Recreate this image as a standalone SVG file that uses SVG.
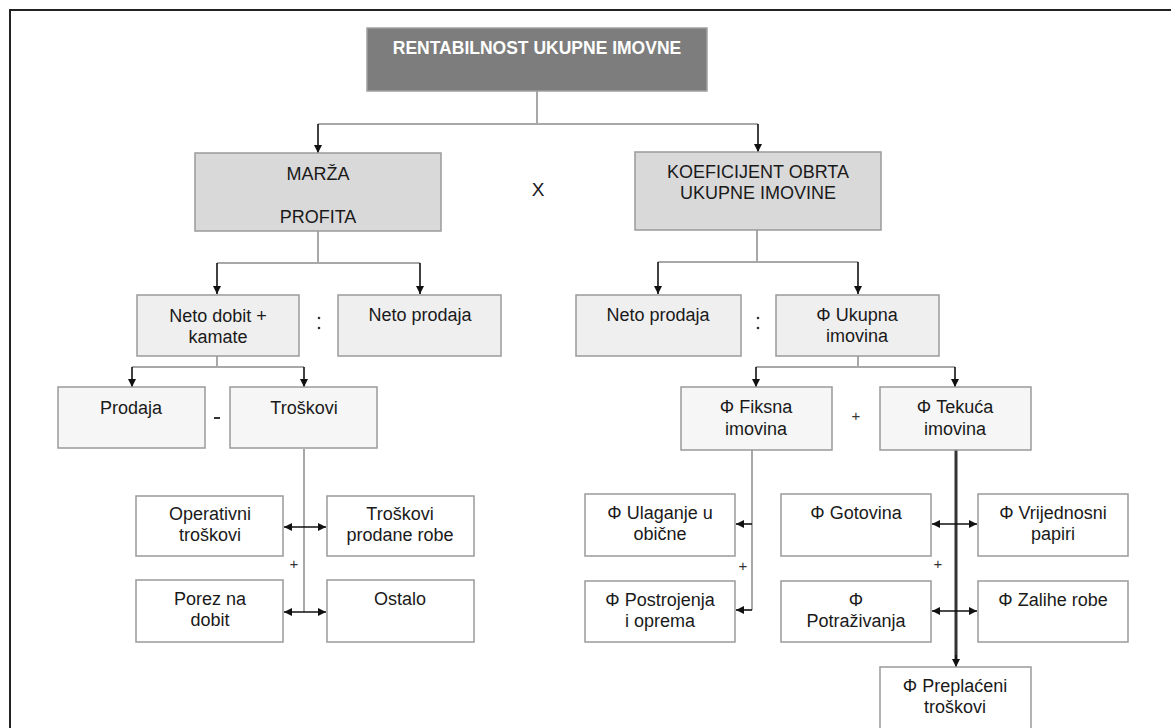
<svg xmlns="http://www.w3.org/2000/svg" width="1171" height="728" viewBox="0 0 1171 728">
<style>
text{font-family:"Liberation Sans",Arial,sans-serif;font-size:18px;fill:#1a1a1a;text-anchor:middle}
.title{font-weight:bold;fill:#ffffff;font-size:17.5px}
.box{stroke:#9a9a9a;stroke-width:1.5}
.top{fill:#7d7d7d;stroke:#a0a0a0}
.l1{fill:#d9d9d9}
.l2{fill:#efefef}
.l3{fill:#f6f6f6}
.l4{fill:#ffffff}
.trunk{stroke:#a8a8a8;stroke-width:2;fill:none}
.arr{stroke:#111;stroke-width:1.6;fill:none}
.thick{stroke:#333;stroke-width:3;fill:none}
.sym{fill:#333}
.plus{font-size:15px;fill:#333}
</style>
<defs>
<marker id="ah" markerUnits="userSpaceOnUse" markerWidth="10" markerHeight="10" refX="8" refY="4" orient="auto">
<path d="M0,0 L8,4 L0,8 Z" fill="#111"/>
</marker>
<marker id="ahs" markerUnits="userSpaceOnUse" markerWidth="10" markerHeight="10" refX="0" refY="4" orient="auto">
<path d="M8,0 L0,4 L8,8 Z" fill="#111"/>
</marker>
</defs>
<rect width="1171" height="728" fill="#ffffff"/>
<path d="M10,728 V10 H1171" stroke="#222" stroke-width="2" fill="none"/>

<g id="connectors">
<path class="trunk" d="M537,91 V124 H318 M537,124 H758"/>
<path class="arr" d="M318,124 V153" marker-end="url(#ah)"/>
<path class="arr" d="M758,124 V152" marker-end="url(#ah)"/>
<path class="trunk" d="M318,231 V263 H217 M318,263 H420"/>
<path class="arr" d="M217,263 V294" marker-end="url(#ah)"/>
<path class="arr" d="M420,263 V294" marker-end="url(#ah)"/>
<path class="trunk" d="M757,230 V262 H658 M757,262 H858"/>
<path class="arr" d="M658,262 V294" marker-end="url(#ah)"/>
<path class="arr" d="M858,262 V294" marker-end="url(#ah)"/>
<path class="trunk" d="M217,356 V367 H132 M217,367 H304"/>
<path class="arr" d="M132,367 V387" marker-end="url(#ah)"/>
<path class="arr" d="M304,367 V387" marker-end="url(#ah)"/>
<path class="trunk" d="M858,356 V367 H756 M858,367 H955"/>
<path class="arr" d="M756,367 V387" marker-end="url(#ah)"/>
<path class="arr" d="M955,367 V387" marker-end="url(#ah)"/>
<path class="trunk" d="M304,449 V612"/>
<path class="arr" d="M284,527 H326" marker-start="url(#ahs)" marker-end="url(#ah)"/>
<path class="arr" d="M284,612 H326" marker-start="url(#ahs)" marker-end="url(#ah)"/>
<path class="trunk" d="M752,450 V610"/>
<path class="arr" d="M752,524 H736" marker-end="url(#ah)"/>
<path class="arr" d="M752,610 H736" marker-end="url(#ah)"/>
<path class="thick" d="M956,450 V660"/>
<path class="arr" d="M956,655 V667" marker-end="url(#ah)"/>
<path class="arr" d="M932,524 H977" marker-start="url(#ahs)" marker-end="url(#ah)"/>
<path class="arr" d="M932,611 H977" marker-start="url(#ahs)" marker-end="url(#ah)"/>
</g>

<g id="n-rentabilnost"><rect class="box top" x="367" y="28" width="340" height="63"/><text class="title" x="537" y="54">RENTABILNOST UKUPNE IMOVNE</text></g>
<g id="n-marza"><rect class="box l1" x="195" y="153" width="246" height="78"/><text x="318" y="180">MARŽA</text><text x="318" y="223">PROFITA</text></g>
<g id="n-koef"><rect class="box l1" x="635" y="152" width="246" height="78"/><text x="758" y="178">KOEFICIJENT OBRTA</text><text x="758" y="199">UKUPNE IMOVINE</text></g>
<text x="538" y="196" style="font-size:19px">X</text>

<g id="n-netodobit"><rect class="box l2" x="137" y="295" width="162" height="61"/><text x="218" y="322">Neto dobit +</text><text x="218" y="343">kamate</text></g>
<g id="n-netoprodaja1"><rect class="box l2" x="338" y="295" width="163" height="61"/><text x="420" y="321">Neto prodaja</text></g>
<g id="n-netoprodaja2"><rect class="box l2" x="576" y="295" width="165" height="61"/><text x="658" y="321">Neto prodaja</text></g>
<g id="n-ukupna"><rect class="box l2" x="776" y="295" width="163" height="61"/><text x="857" y="321">Φ Ukupna</text><text x="857" y="342">imovina</text></g>
<circle class="sym" cx="319" cy="318" r="1.3"/><circle class="sym" cx="319" cy="328" r="1.3"/>
<circle class="sym" cx="758" cy="318" r="1.3"/><circle class="sym" cx="758" cy="328" r="1.3"/>

<g id="n-prodaja"><rect class="box l3" x="58" y="387" width="147" height="61"/><text x="131" y="414">Prodaja</text></g>
<g id="n-troskovi"><rect class="box l3" x="230" y="387" width="147" height="61"/><text x="304" y="414">Troškovi</text></g>
<rect class="sym" x="214" y="417" width="6" height="2"/>
<g id="n-fiksna"><rect class="box l3" x="681" y="387" width="151" height="63"/><text x="756" y="413">Φ Fiksna</text><text x="756" y="435">imovina</text></g>
<g id="n-tekuca"><rect class="box l3" x="880" y="387" width="151" height="63"/><text x="955" y="413">Φ Tekuća</text><text x="955" y="435">imovina</text></g>
<text class="plus" x="856" y="421">+</text>

<g id="n-operativni"><rect class="box l4" x="136" y="496" width="147" height="60"/><text x="210" y="520">Operativni</text><text x="210" y="541">troškovi</text></g>
<g id="n-trosprod"><rect class="box l4" x="327" y="496" width="147" height="60"/><text x="400" y="520">Troškovi</text><text x="400" y="541">prodane robe</text></g>
<g id="n-porez"><rect class="box l4" x="136" y="580" width="147" height="62"/><text x="210" y="605">Porez na</text><text x="210" y="626">dobit</text></g>
<g id="n-ostalo"><rect class="box l4" x="327" y="580" width="147" height="62"/><text x="400" y="605">Ostalo</text></g>
<text class="plus" x="294" y="569">+</text>

<g id="n-ulaganje"><rect class="box l4" x="585" y="494" width="150" height="62"/><text x="660" y="519">Φ Ulaganje u</text><text x="660" y="540">obične</text></g>
<g id="n-postrojenja"><rect class="box l4" x="585" y="581" width="150" height="61"/><text x="660" y="606">Φ Postrojenja</text><text x="660" y="627">i oprema</text></g>
<text class="plus" x="743" y="571">+</text>

<g id="n-gotovina"><rect class="box l4" x="781" y="494" width="150" height="62"/><text x="856" y="519">Φ Gotovina</text></g>
<g id="n-vrijednosni"><rect class="box l4" x="978" y="494" width="150" height="62"/><text x="1053" y="519">Φ Vrijednosni</text><text x="1053" y="540">papiri</text></g>
<g id="n-potrazivanja"><rect class="box l4" x="781" y="581" width="150" height="61"/><text x="856" y="606">Φ</text><text x="856" y="627">Potraživanja</text></g>
<g id="n-zalihe"><rect class="box l4" x="978" y="581" width="150" height="61"/><text x="1053" y="606">Φ Zalihe robe</text></g>
<text class="plus" x="938" y="569">+</text>

<g id="n-preplaceni"><rect class="box l4" x="880" y="667" width="151" height="62"/><text x="955" y="692">Φ Preplaćeni</text><text x="955" y="713">troškovi</text></g>
</svg>
